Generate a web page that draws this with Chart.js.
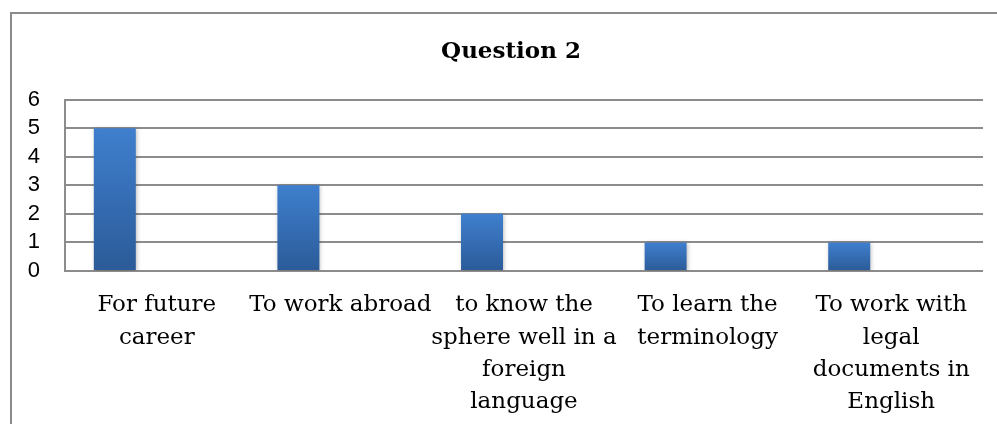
<!DOCTYPE html>
<html>
<head>
<meta charset="utf-8">
<script src="https://cdn.jsdelivr.net/npm/chart.js@4.4.1/dist/chart.umd.min.js"></script>
<style>
  html, body { margin: 0; padding: 0; background: #fff; }
  #wrap { width: 997px; height: 424px; position: relative; }
</style>
</head>
<body>
<div id="wrap"><canvas id="chart" width="997" height="424"></canvas></div>
<script>
// data
const CATEGORIES = [
  ["For future", "career"],
  "To work abroad",
  ["to know the", "sphere well in a", "foreign", "language"],
  ["To learn the", "terminology"],
  ["To work with", "legal", "documents in", "English"]
];
const SERIES_1 = [5, 3, 2, 1, 1];
// Excel chart kept two empty series, which pushes the bars to the left of each slot
const SERIES_2 = [null, null, null, null, null];
const SERIES_3 = [null, null, null, null, null];
const Y_MIN = 0, Y_MAX = 6, Y_STEP = 1;

const GRID = "#8c8c8c";

// gradient per bar, light on top, dark at the base
function barFill(ctx) {
  const chart = ctx.chart;
  const y = chart.scales.y;
  const v = ctx.raw;
  if (!y || v == null) return "#3a73bb";
  const top = y.getPixelForValue(v), base = y.getPixelForValue(0);
  if (!isFinite(top) || !isFinite(base) || top === base) return "#3a73bb";
  const g = chart.ctx.createLinearGradient(0, top, 0, base);
  g.addColorStop(0, "#3f7fce");
  g.addColorStop(1, "#2b5b98");
  return g;
}

// outer chart frame (only top and left edges show in the crop)
const frame = {
  id: "frame",
  beforeDraw(chart) {
    const c = chart.ctx;
    c.save();
    c.strokeStyle = "#8a8a8a";
    c.lineWidth = 2;
    c.beginPath();
    c.moveTo(11, 424);
    c.lineTo(11, 13);
    c.lineTo(997, 13);
    c.stroke();
    c.restore();
  }
};

// soft shadow like the Office bar style
const shadow = {
  id: "shadow",
  beforeDatasetsDraw(chart) {
    const c = chart.ctx;
    c.save();
    c.shadowColor = "rgba(0,0,0,0.25)";
    c.shadowBlur = 4;
    c.shadowOffsetX = 1;
    c.shadowOffsetY = 1;
  },
  afterDatasetsDraw(chart) { chart.ctx.restore(); }
};

new Chart(document.getElementById("chart"), {
  type: "bar",
  data: {
    labels: CATEGORIES,
    datasets: [
      { label: "Series 1", data: SERIES_1, backgroundColor: barFill },
      { label: "Series 2", data: SERIES_2 },
      { label: "Series 3", data: SERIES_3 }
    ]
  },
  options: {
    responsive: false,
    animation: false,
    devicePixelRatio: 1,
    layout: { padding: { left: 25, right: 0, top: 20, bottom: 0 } },
    datasets: { bar: { categoryPercentage: 0.686, barPercentage: 1.0 } },
    plugins: {
      legend: { display: false },
      tooltip: { enabled: false },
      title: {
        display: true,
        text: "Question 2",
        color: "#000",
        font: { family: "DejaVu Serif", size: 23, weight: "bold" },
        padding: { top: 18, bottom: 34 }
      }
    },
    scales: {
      x: {
        afterFit(s) { s.height = 153; },
        grid: { display: false, drawTicks: false },
        border: { display: false },
        ticks: {
          color: "#000",
          maxRotation: 0,
          autoSkip: false,
          padding: 18,
          font: { family: "DejaVu Serif", size: 23, lineHeight: 1.41 }
        }
      },
      y: {
        min: Y_MIN,
        max: Y_MAX,
        afterFit(s) { s.width = 40; },
        grid: { color: GRID, lineWidth: 2, drawTicks: false },
        border: { display: true, color: GRID, width: 2 },
        ticks: {
          stepSize: Y_STEP,
          autoSkip: false,
          color: "#000",
          padding: 25,
          font: { family: "Liberation Sans", size: 22 }
        }
      },
      // empty right gutter so the plot stops short of the edge while the title stays centred on the frame
      gutter: {
        position: "right",
        min: Y_MIN,
        max: Y_MAX,
        afterFit(s) { s.width = 14; },
        grid: { display: false, drawTicks: false },
        border: { display: false },
        ticks: { display: false }
      }
    }
  },
  plugins: [frame, shadow]
});
</script>
</body>
</html>
